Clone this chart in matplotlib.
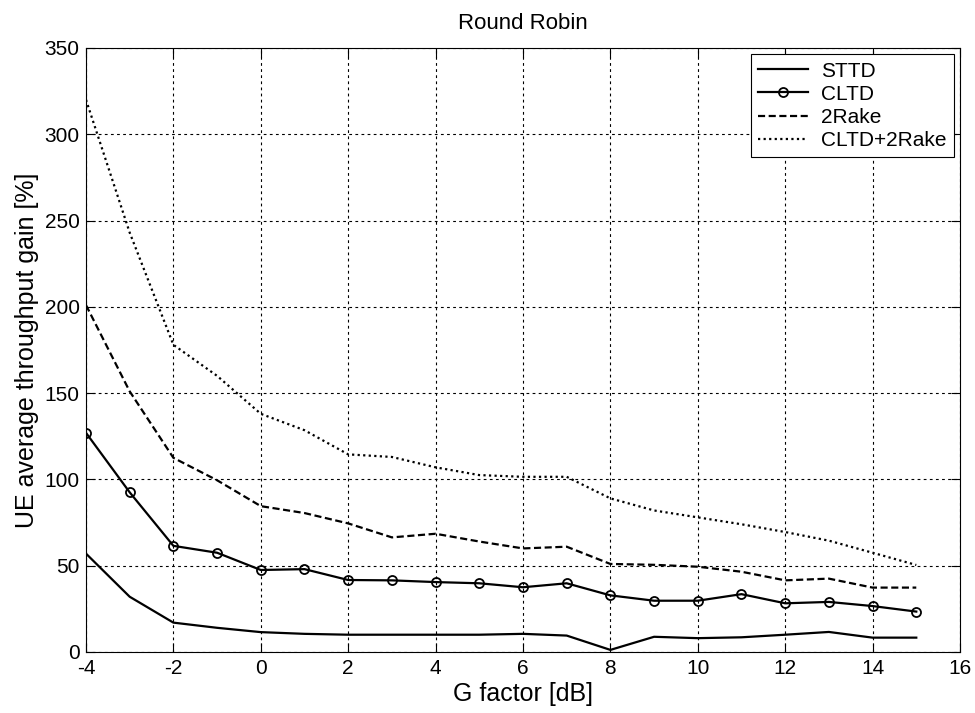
import matplotlib.pyplot as plt

plt.rcParams['font.family'] = ['Liberation Sans', 'DejaVu Sans']
plt.rcParams['axes.unicode_minus'] = False

g_factor = list(range(-4, 16))
sttd = [57, 32, 17, 14, 11.5, 10.5, 10, 10, 10, 10, 10.5, 9.5, 1.2, 8.8, 8, 8.5, 10, 11.6, 8.3, 8.3]
cltd = [127, 92.5, 61.5, 57.5, 47.5, 48, 41.7, 41.5, 40.5, 39.8, 37.5, 39.8, 32.8, 29.7, 29.7, 33.5, 28.2, 29, 26.6, 23.4]
rake2 = [201, 151, 112.5, 99.5, 84.5, 80.5, 74.5, 66.4, 68.5, 64, 60, 61, 51, 50.5, 49.4, 46.5, 41.5, 42.5, 37.3, 37.3]
cltd_rake2 = [320, 243, 178, 160, 138, 128.5, 114.5, 113, 107, 102.5, 101.5, 101.5, 89, 82, 78, 74, 69.5, 64.5, 57.5, 50.4]

fig = plt.figure(figsize=(9.75, 7.13), dpi=100)
ax = fig.add_axes([0.0882, 0.0856, 0.8964, 0.8471])

ax.plot(g_factor, sttd, '-', color='black', linewidth=1.6, label='STTD')
ax.plot(g_factor, cltd, '-', color='black', linewidth=1.6, marker='o',
        markersize=6.5, markerfacecolor='none', markeredgewidth=1.3, label='CLTD')
ax.plot(g_factor, rake2, color='black', linewidth=1.6, linestyle=(0, (3.2, 1.6)), label='2Rake')
ax.plot(g_factor, cltd_rake2, color='black', linewidth=1.6, linestyle=(0, (1, 1.5)), label='CLTD+2Rake')

ax.set_xlim(-4, 16)
ax.set_ylim(0, 350)
ax.set_xticks(range(-4, 17, 2))
ax.set_yticks(range(0, 351, 50))
ax.tick_params(direction='in', top=True, right=True, labelsize=15, length=6.5, width=0.8)
ax.tick_params(axis='x', pad=5)
ax.tick_params(axis='y', pad=4.5)
ax.grid(True, color='black', linestyle=(0, (2.5, 3)), linewidth=0.8)
for sp in ax.spines.values():
    sp.set_linewidth(0.8)

ax.set_xlabel('G factor [dB]', fontsize=18, labelpad=3)
ax.set_ylabel('UE average throughput gain [%]', fontsize=18, labelpad=4)
ax.set_title('Round Robin', fontsize=16, pad=14)

leg = ax.legend(loc='upper right', fontsize=15, frameon=True, fancybox=False,
                edgecolor='black', framealpha=1, handlelength=2.4, borderaxespad=0.3,
                labelspacing=0.2, borderpad=0.35, handletextpad=0.6)
leg.get_frame().set_linewidth(0.8)

fig.savefig('out.png', dpi=100)
